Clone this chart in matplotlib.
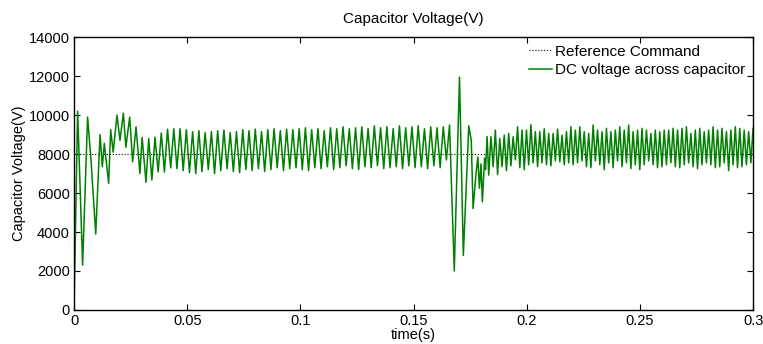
import numpy as np
import matplotlib
matplotlib.use("Agg")
import matplotlib.pyplot as plt

plt.rcParams['font.family'] = ['Liberation Sans', 'DejaVu Sans']

# reference command (V)
v_ref = 8000

# start-up transient: times (s) and voltages (V) read at the turning points
t_start = [0, 0.0016, 0.0038, 0.006, 0.0075, 0.0096, 0.0115, 0.0125, 0.0134,
           0.0153, 0.0162, 0.0173, 0.019, 0.0203, 0.0218, 0.0229, 0.0246,
           0.0259, 0.0274, 0.0291, 0.0301, 0.0318, 0.033]
v_start = [0, 10200, 2300, 9900, 7700, 3900, 9000, 7350, 8550,
           6500, 9250, 8100, 10000, 8700, 10100, 8350, 9900,
           7600, 9400, 7000, 8850, 6550, 8800]

# steady oscillation 0.0344 .. 0.1659 s, troughs and peaks alternate
steady_t0, steady_t1 = 0.0344, 0.1659
steady_troughs = [6670, 7080, 7080, 7290, 7250, 7150, 7050, 7000, 7100, 7200,
                  7000, 7150, 7250, 7100, 7050, 7200, 7150, 7250, 7100, 7200,
                  7300, 7150, 7250, 7300, 7200, 7150, 7300, 7250, 7350, 7200,
                  7300, 7400, 7250, 7200, 7350, 7300, 7400, 7250, 7300, 7350,
                  7250, 7400, 7300, 7350, 7250, 7400, 7300, 7700]
steady_peaks = [8870, 9080, 9280, 9300, 9300, 9250, 9150, 9200, 9100, 9150,
                9200, 9230, 9100, 9150, 9250, 9200, 9280, 9150, 9250, 9300,
                9200, 9280, 9250, 9300, 9350, 9250, 9300, 9200, 9350, 9300,
                9400, 9300, 9350, 9400, 9300, 9450, 9350, 9400, 9300, 9450,
                9350, 9400, 9450, 9300, 9400, 9350, 9400, 9490]

# load-change transient around 0.17 s
t_dist = [0.168, 0.1703, 0.172, 0.1744, 0.1755, 0.1763, 0.1776, 0.1784,
          0.1791, 0.1798, 0.1804, 0.1814, 0.1818, 0.1825]
v_dist = [2000, 11950, 2800, 9450, 8700, 5200, 7000, 7850,
          6250, 7500, 5550, 7800, 7200, 8900]

# ripple after the disturbance 0.1832 .. 0.3 s
ripple_t0, ripple_t1 = 0.1832, 0.3
ripple_troughs = [6920, 7350, 6950, 7350, 7150, 7400, 7700, 7300, 7200, 7450,
                  7550, 7350, 7550, 7450, 7400, 7650, 7600, 7450, 7550,
                  7450, 7550, 7650, 7350, 7300, 7650, 7450, 7200, 7550, 7300,
                  7650, 7350, 7550, 7250, 7450, 7200, 7450, 7650, 7450, 7300,
                  7350,
                  7450, 7550, 7350, 7300, 7450, 7550, 7350, 7250, 7450, 7550,
                  7450, 7300, 7350, 7550, 7150, 7450, 7300, 7350, 7450, 7550]
ripple_peaks = [8890, 9230, 8800, 8970, 9060, 8890, 9400, 9230, 9230, 9510,
                9150, 9150, 9300, 9060, 9060, 9280, 8970, 9150, 9400,
                9230, 9400, 9150, 9060, 9490, 9230, 9150, 9320, 9150, 9230,
                9400, 9230, 9490, 9150, 9230, 9320, 9230, 9060, 9230, 9150,
                9230,
                9230, 9320, 9230, 9320, 9400, 9060, 9230, 9320, 9150, 9230,
                9400, 9230, 9320, 9150, 9230, 9400, 9320, 9230, 9150, 9320]

x_ticks = [0, 0.05, 0.1, 0.15, 0.2, 0.25, 0.3]
x_labels = ['0', '0.05', '0.1', '0.15', '0.2', '0.25', '0.3']
y_ticks = list(range(0, 14001, 2000))


def alternate(first, second):
    out = []
    for a, b in zip(first, second):
        out += [a, b]
    return out


v_steady = alternate(steady_troughs, steady_peaks)
t_steady = np.linspace(steady_t0, steady_t1, len(v_steady))
v_ripple = alternate(ripple_troughs, ripple_peaks)
t_ripple = np.linspace(ripple_t0, ripple_t1, len(v_ripple))

t_all = np.concatenate([t_start, t_steady, t_dist, t_ripple])
v_all = np.concatenate([v_start, v_steady, v_dist, v_ripple])

fig = plt.figure(figsize=(7.63, 3.44), dpi=100)
ax = fig.add_axes([0.097, 0.099, 0.890, 0.793])

ax.plot([0, 0.3], [v_ref, v_ref], color='black', linestyle=':', linewidth=0.8,
        label='Reference Command')
ax.plot(t_all, v_all, color='#008000', linewidth=1.1,
        label='DC voltage across capacitor')

ax.set_xlim(0, 0.3)
ax.set_ylim(0, 14000)
ax.set_xticks(x_ticks)
ax.set_xticklabels(x_labels)
ax.set_yticks(y_ticks)
ax.tick_params(direction='in', top=True, right=True, labelsize=10.5,
               length=4, width=0.8, pad=3)
for s in ax.spines.values():
    s.set_linewidth(1.0)

ax.set_title('Capacitor Voltage(V)', fontsize=11, pad=10)
ax.set_xlabel('time(s)', fontsize=10.5, labelpad=0)
ax.set_ylabel('Capacitor Voltage(V)', fontsize=10.5, labelpad=2)

ax.legend(loc='upper right', frameon=False, fontsize=11, handlelength=1.5,
          handletextpad=0.2, borderpad=0.2, borderaxespad=0.3,
          labelspacing=0.3)

fig.savefig('out.png', dpi=100)
